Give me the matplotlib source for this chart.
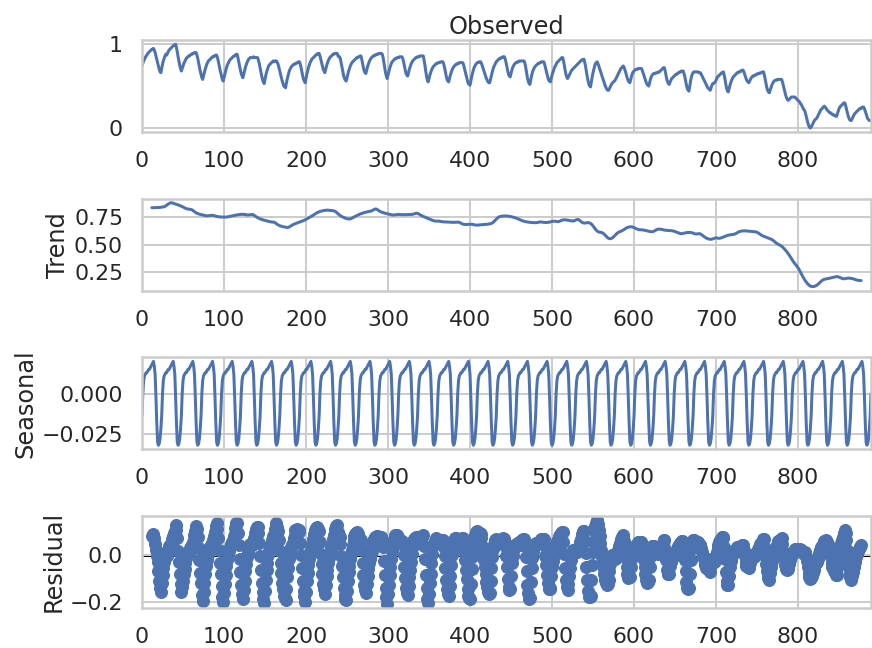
import numpy as np
import matplotlib
matplotlib.use("Agg")
import matplotlib.pyplot as plt
import seaborn as sns

sns.set_theme(style="whitegrid", context="poster")
plt.rcParams["font.family"] = ["DejaVu Sans"]
plt.rcParams.update({
    "xtick.labelsize": 22,
    "ytick.labelsize": 22,
    "axes.labelsize": 24,
    "axes.titlesize": 24,
    "xtick.major.size": 0,
    "ytick.major.size": 0,
    "xtick.major.pad": 19,
    "ytick.major.pad": 19,
    "lines.linewidth": 3,
    "lines.markersize": 12,
    "axes.linewidth": 2.5,
    "grid.linewidth": 2,
})

PERIOD = 24

# observed series, index 0..889
obs_part1 = [
    0.74, 0.77, 0.80, 0.82, 0.84, 0.86, 0.87, 0.89, 0.90, 0.91, 0.92, 0.93, 0.94, 0.94,
    0.95, 0.93, 0.90, 0.86, 0.82, 0.78, 0.74, 0.70, 0.67,
    0.66, 0.71, 0.76, 0.80, 0.83, 0.86, 0.88, 0.87, 0.89, 0.91, 0.93, 0.94, 0.95, 0.96, 0.97, 0.98, 0.99, 0.99,
    1.00, 0.96, 0.91, 0.85, 0.80, 0.75, 0.71,
    0.68, 0.71, 0.74, 0.77, 0.79, 0.81, 0.83, 0.84, 0.85, 0.86, 0.86, 0.87, 0.88, 0.88, 0.89, 0.89, 0.90, 0.90,
    0.90, 0.87, 0.83, 0.78, 0.73, 0.68, 0.64, 0.60,
    0.58, 0.62, 0.66, 0.70, 0.73, 0.76, 0.78, 0.80, 0.81, 0.82, 0.83, 0.84, 0.85, 0.85, 0.86, 0.86, 0.87,
    0.87, 0.84, 0.80, 0.75, 0.70, 0.66, 0.62, 0.58,
    0.56, 0.60, 0.64, 0.68, 0.72, 0.75, 0.77, 0.79, 0.81, 0.82, 0.83, 0.84, 0.85, 0.86, 0.86, 0.87, 0.88,
    0.88, 0.84, 0.79, 0.74, 0.69, 0.65, 0.62,
    0.60, 0.64, 0.68, 0.72, 0.75, 0.78, 0.80, 0.82, 0.83, 0.84, 0.84, 0.84, 0.84, 0.85, 0.84, 0.84, 0.84, 0.84,
    0.84, 0.81, 0.77, 0.72, 0.67, 0.62, 0.58, 0.55,
    0.53, 0.58, 0.63, 0.67, 0.70, 0.73, 0.75, 0.76, 0.77, 0.78, 0.79, 0.80, 0.79, 0.80, 0.80,
    0.80, 0.78, 0.76, 0.72, 0.68, 0.64, 0.60, 0.56, 0.53, 0.50, 0.49,
    0.48, 0.53, 0.58, 0.62, 0.66, 0.69, 0.71, 0.73, 0.74, 0.75, 0.76, 0.76, 0.77, 0.77, 0.78, 0.78, 0.79,
    0.79, 0.76, 0.72, 0.67, 0.62, 0.58, 0.56,
]
obs_part2 = [
    0.54, 0.59, 0.64, 0.68, 0.72, 0.75, 0.78, 0.80, 0.82, 0.83, 0.84, 0.85, 0.86, 0.87, 0.88, 0.88, 0.89,
    0.89, 0.86, 0.82, 0.78, 0.74, 0.70, 0.68,
    0.66, 0.70, 0.74, 0.77, 0.80, 0.82, 0.84, 0.85, 0.86, 0.87, 0.88, 0.88, 0.89, 0.89, 0.89,
    0.89, 0.86, 0.85, 0.85, 0.82, 0.77, 0.72, 0.67, 0.62, 0.59, 0.57,
    0.56, 0.60, 0.64, 0.68, 0.71, 0.74, 0.76, 0.78, 0.79, 0.80, 0.81, 0.82, 0.83, 0.84, 0.84, 0.85, 0.85, 0.86,
    0.86, 0.82, 0.77, 0.72, 0.68, 0.66,
    0.65, 0.69, 0.73, 0.76, 0.79, 0.81, 0.83, 0.84, 0.85, 0.86, 0.86, 0.87, 0.87, 0.88, 0.88, 0.88, 0.89, 0.89, 0.89,
    0.89, 0.88, 0.84, 0.78, 0.72, 0.66, 0.62,
    0.59, 0.63, 0.67, 0.71, 0.74, 0.77, 0.79, 0.80, 0.81, 0.82, 0.83, 0.83, 0.84, 0.84, 0.84, 0.85, 0.85, 0.85,
    0.85, 0.83, 0.79, 0.74, 0.69, 0.65, 0.63,
    0.62, 0.66, 0.70, 0.73, 0.76, 0.78, 0.80, 0.81, 0.82, 0.83, 0.84, 0.84, 0.85, 0.85, 0.85, 0.86, 0.86, 0.86, 0.86,
    0.86, 0.81, 0.75, 0.68, 0.62, 0.57,
    0.55, 0.59, 0.63, 0.66, 0.69, 0.71, 0.73, 0.74, 0.75, 0.76, 0.77, 0.77, 0.78, 0.78, 0.78, 0.79, 0.79, 0.79,
    0.79, 0.76, 0.72, 0.67, 0.62, 0.58, 0.56,
    0.55, 0.59, 0.63, 0.66, 0.69, 0.71, 0.73, 0.74, 0.75, 0.76, 0.76, 0.77, 0.77, 0.78, 0.78, 0.78, 0.78,
    0.78, 0.76, 0.72, 0.68, 0.64, 0.60, 0.56, 0.53, 0.52,
]
obs_part3 = [
    0.51, 0.56, 0.61, 0.65, 0.69, 0.72, 0.74, 0.76, 0.77, 0.78, 0.78, 0.79, 0.79,
    0.79, 0.77, 0.74, 0.71, 0.68, 0.65, 0.62, 0.59, 0.57, 0.55, 0.54,
    0.54, 0.58, 0.62, 0.66, 0.70, 0.73, 0.75, 0.77, 0.79, 0.80, 0.81, 0.82, 0.83, 0.83, 0.84, 0.84, 0.85, 0.85,
    0.85, 0.82, 0.78, 0.73, 0.68, 0.64, 0.62,
    0.61, 0.65, 0.69, 0.72, 0.74, 0.76, 0.77, 0.78, 0.78, 0.79, 0.79, 0.80, 0.80, 0.80, 0.80, 0.80, 0.80,
    0.80, 0.77, 0.72, 0.66, 0.60, 0.56, 0.53,
    0.52, 0.57, 0.62, 0.66, 0.69, 0.71, 0.73, 0.74, 0.75, 0.76, 0.77, 0.77, 0.78, 0.78, 0.79, 0.79, 0.79,
    0.79, 0.76, 0.72, 0.68, 0.64, 0.60, 0.57, 0.56,
    0.55, 0.59, 0.63, 0.66, 0.69, 0.72, 0.74, 0.76, 0.78, 0.79, 0.80, 0.81, 0.82, 0.83, 0.84,
    0.84, 0.80, 0.75, 0.69, 0.64, 0.61,
    0.59, 0.61, 0.63, 0.65, 0.67, 0.69, 0.70, 0.71, 0.72, 0.73, 0.74, 0.75, 0.76, 0.77, 0.78, 0.79, 0.80, 0.81, 0.81, 0.82,
    0.82, 0.78, 0.73, 0.67, 0.61, 0.56, 0.52, 0.50,
    0.49, 0.55, 0.61, 0.66, 0.70, 0.74, 0.77, 0.78,
    0.79, 0.77, 0.74, 0.71, 0.68, 0.65, 0.62, 0.59, 0.56, 0.53, 0.50, 0.48, 0.46, 0.45,
    0.45, 0.47, 0.49, 0.51, 0.53, 0.54, 0.55, 0.56, 0.57, 0.59, 0.61, 0.63, 0.65, 0.67, 0.69, 0.71, 0.72, 0.73,
    0.74, 0.72, 0.69, 0.66, 0.62, 0.59, 0.56, 0.55,
]
obs_part4 = [
    0.54, 0.58, 0.62, 0.65, 0.67, 0.68, 0.69, 0.70, 0.70, 0.70, 0.71, 0.71, 0.71, 0.71,
    0.71, 0.69, 0.66, 0.63, 0.60, 0.57, 0.54, 0.52, 0.51,
    0.50, 0.54, 0.58, 0.61, 0.63, 0.64, 0.65, 0.65, 0.65, 0.66, 0.66, 0.66, 0.67, 0.67, 0.68, 0.69, 0.70, 0.71, 0.72,
    0.72, 0.68, 0.63, 0.58, 0.55, 0.53,
    0.52, 0.55, 0.57, 0.59, 0.60, 0.61, 0.62, 0.63, 0.64, 0.64, 0.65, 0.66, 0.66, 0.67, 0.67, 0.68, 0.68,
    0.68, 0.65, 0.61, 0.56, 0.51, 0.47, 0.45,
    0.44, 0.50, 0.56, 0.61, 0.64, 0.66, 0.67, 0.67, 0.67,
    0.67, 0.67, 0.67, 0.66, 0.66, 0.66, 0.64, 0.62, 0.60, 0.58, 0.56, 0.54, 0.52, 0.50, 0.48, 0.47, 0.46,
    0.45, 0.48, 0.51, 0.53, 0.53, 0.54, 0.55, 0.57, 0.59, 0.61, 0.62, 0.63, 0.64, 0.65, 0.66, 0.66,
    0.67, 0.63, 0.58, 0.52, 0.47, 0.44,
    0.43, 0.47, 0.51, 0.54, 0.57, 0.59, 0.61, 0.62, 0.63, 0.64, 0.65, 0.66, 0.66, 0.67, 0.67, 0.68, 0.68, 0.69,
    0.69, 0.67, 0.64, 0.61, 0.58, 0.56, 0.55,
    0.54, 0.56, 0.58, 0.60, 0.61, 0.62, 0.62, 0.63, 0.63, 0.64, 0.64, 0.65, 0.65, 0.65, 0.66, 0.66, 0.66, 0.67,
    0.67, 0.63, 0.58, 0.53, 0.48, 0.45, 0.43,
    0.42, 0.45, 0.48, 0.51, 0.53, 0.55, 0.56, 0.57, 0.57, 0.57, 0.58, 0.58, 0.58, 0.58, 0.58,
    0.58, 0.55, 0.51, 0.47, 0.43, 0.39, 0.36, 0.34,
    0.33, 0.34, 0.35, 0.36, 0.37, 0.37, 0.37, 0.37, 0.37, 0.36, 0.35, 0.34, 0.33, 0.32, 0.31, 0.29, 0.28, 0.26,
    0.24, 0.22, 0.21, 0.18, 0.14, 0.10, 0.06, 0.03, 0.01,
    0.00, 0.01, 0.03, 0.05, 0.07, 0.09, 0.10, 0.11, 0.12, 0.14, 0.16, 0.18, 0.20, 0.22, 0.23, 0.24, 0.25,
    0.26, 0.25, 0.24, 0.22, 0.21, 0.20, 0.19, 0.18, 0.18, 0.17, 0.16, 0.16, 0.15, 0.15, 0.14,
    0.14, 0.17, 0.20, 0.23, 0.25, 0.26, 0.27, 0.28, 0.29, 0.30,
    0.30, 0.27, 0.23, 0.19, 0.15, 0.12, 0.10, 0.09,
    0.09, 0.11, 0.13, 0.15, 0.17, 0.18, 0.19, 0.20, 0.21, 0.22, 0.23, 0.23, 0.24, 0.24, 0.25,
    0.25, 0.23, 0.20, 0.17, 0.14, 0.11, 0.10, 0.09, 0.09, 0.09,
]

# one period of the seasonal component (phase = index mod 24)
seasonal_profile = [
    -0.014, 0.000, 0.008, 0.011, 0.012, 0.013, 0.013, 0.014,
    0.015, 0.015, 0.016, 0.017, 0.018, 0.019, 0.020, 0.017,
    0.012, -0.002, -0.018, -0.030, -0.032, -0.031, -0.028, -0.022,
]

x_ticks = [0, 100, 200, 300, 400, 500, 600, 700, 800]

observed = np.array(obs_part1 + obs_part2 + obs_part3 + obs_part4)
n = len(observed)
idx = np.arange(n)

# centred 2x24 moving average as the trend
half = PERIOD // 2
weights = np.r_[0.5, np.ones(PERIOD - 1), 0.5] / PERIOD
trend = np.full(n, np.nan)
trend[half:n - half] = np.convolve(observed, weights, mode="valid")

seasonal = np.asarray(seasonal_profile)[idx % PERIOD]
resid = observed - trend - seasonal

W, H = 872, 648
fig, axes = plt.subplots(4, 1, figsize=(W / 72, H / 72), dpi=72)
fig.subplots_adjust(left=142 / W, right=871 / W, top=1 - 40 / H, bottom=1 - 608 / H, hspace=0.72)
xlim = (0, n - 1)

axes[0].plot(idx, observed)
axes[0].set_title("Observed")
axes[0].set_yticks([0, 1])

axes[1].plot(idx, trend)
axes[1].set_ylabel("Trend")
axes[1].set_yticks([0.25, 0.50, 0.75])

axes[2].plot(idx, seasonal)
axes[2].set_ylabel("Seasonal")
axes[2].set_yticks([-0.025, 0.0])

axes[3].plot(idx, resid, marker="o", linestyle="none")
axes[3].plot(xlim, (0, 0), color="#000000", zorder=-3)
axes[3].set_ylabel("Residual")
axes[3].set_yticks([-0.2, 0.0])

for ax in axes:
    ax.set_xlim(xlim)
    ax.set_xticks(x_ticks)

fig.savefig("out.png", dpi=72)
